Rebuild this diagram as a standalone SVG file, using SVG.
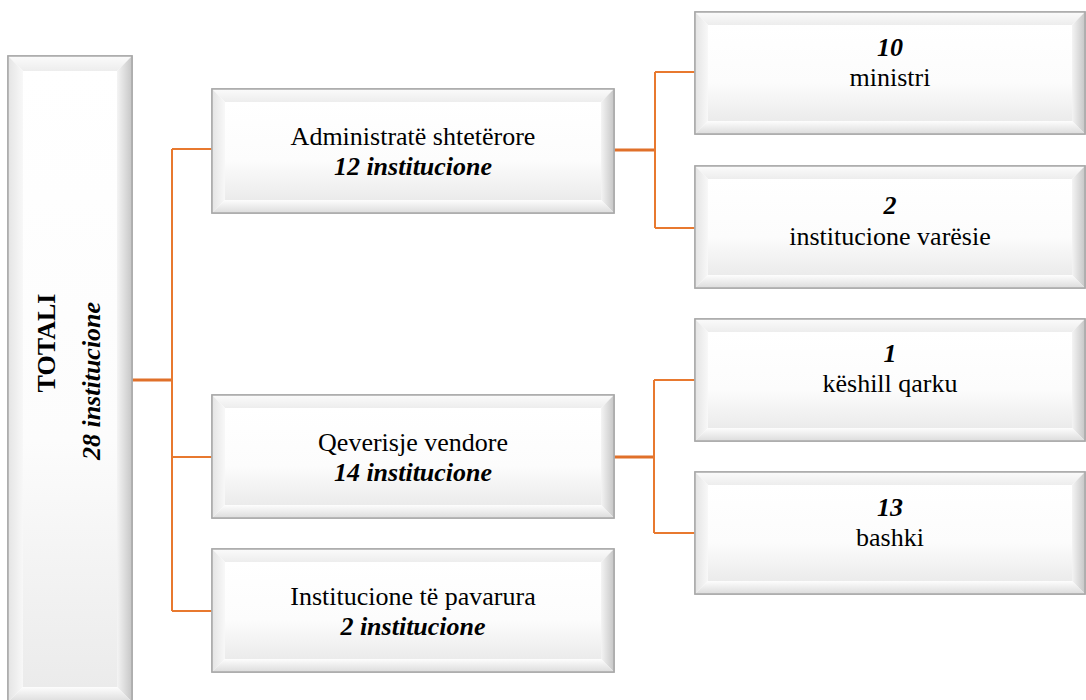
<svg xmlns="http://www.w3.org/2000/svg" width="1086" height="700" viewBox="0 0 1086 700">
<defs>
<linearGradient id="gFace" x1="0" y1="0" x2="0" y2="1">
<stop offset="0" stop-color="#ffffff"/><stop offset="0.6" stop-color="#fcfcfc"/><stop offset="1" stop-color="#ebebeb"/>
</linearGradient>
<linearGradient id="gTop" x1="0" y1="0" x2="0" y2="1">
<stop offset="0" stop-color="#fbfbfb"/><stop offset="1" stop-color="#ededed"/>
</linearGradient>
<linearGradient id="gLeft" x1="0" y1="0" x2="1" y2="0">
<stop offset="0" stop-color="#e4e4e4"/><stop offset="1" stop-color="#f8f8f8"/>
</linearGradient>
<linearGradient id="gRight" x1="0" y1="0" x2="1" y2="0">
<stop offset="0" stop-color="#f4f4f4"/><stop offset="1" stop-color="#c6c6c6"/>
</linearGradient>
<linearGradient id="gBottom" x1="0" y1="0" x2="0" y2="1">
<stop offset="0" stop-color="#fdfdfd"/><stop offset="1" stop-color="#dcdcdc"/>
</linearGradient>
<style>
.outer{fill:#ffffff;stroke:#a9a9a9;stroke-width:1.5}
.face{fill:url(#gFace)}
.bt{fill:url(#gTop)}
.bl{fill:url(#gLeft)}
.br{fill:url(#gRight)}
.bb{fill:url(#gBottom)}
.edge{fill:none;stroke:#a9a9a9;stroke-width:1.5}
.t{font-family:"Liberation Serif","Times New Roman",serif;font-size:26px;fill:#000;text-anchor:middle}
.bi{font-weight:bold;font-style:italic}
.b{font-weight:bold}
.c{fill:none;stroke:#e8792f;stroke-width:2}
.ct{fill:none;stroke:#e0702a;stroke-width:3}
</style>
</defs>

<g id="connectors">
<path class="ct" d="M132 380H172"/>
<path class="c" d="M172 149V611"/>
<path class="c" d="M172 149H212M172 457H212M172 611H212"/>
<path class="ct" d="M614 150H655"/>
<path class="c" d="M655 72V228M655 72H695M655 228H695"/>
<path class="ct" d="M614 457H654"/>
<path class="c" d="M654 380V533M654 380H695M654 533H695"/>
</g>

<g id="totali">
<rect class="outer" x="8" y="56" width="124" height="646"/>
<polygon class="bt" points="8,56 132,56 117,71 23,71"/>
<polygon class="bl" points="8,56 23,71 23,687 8,702"/>
<polygon class="br" points="132,56 132,702 117,687 117,71"/>
<polygon class="bb" points="23,687 117,687 132,702 8,702"/>
<rect class="face" x="23" y="71" width="94" height="616"/>
<rect class="edge" x="8" y="56" width="124" height="646"/>
<text class="t b" font-size="22" transform="translate(55,343) rotate(-90)">TOTALI</text>
<text class="t bi" font-size="28" transform="translate(100,381) rotate(-90)">28 institucione</text>
</g>

<g id="admin">
<rect class="outer" x="212" y="89" width="402" height="124"/>
<polygon class="bt" points="212,89 614,89 601,102 225,102"/>
<polygon class="bl" points="212,89 225,102 225,200 212,213"/>
<polygon class="br" points="614,89 614,213 601,200 601,102"/>
<polygon class="bb" points="225,200 601,200 614,213 212,213"/>
<rect class="face" x="225" y="102" width="376" height="98"/>
<rect class="edge" x="212" y="89" width="402" height="124"/>
<text class="t" x="413" y="145">Administratë shtetërore</text>
<text class="t bi" x="413" y="175">12 institucione</text>
</g>

<g id="qeverisje">
<rect class="outer" x="212" y="395" width="402" height="123"/>
<polygon class="bt" points="212,395 614,395 601,408 225,408"/>
<polygon class="bl" points="212,395 225,408 225,505 212,518"/>
<polygon class="br" points="614,395 614,518 601,505 601,408"/>
<polygon class="bb" points="225,505 601,505 614,518 212,518"/>
<rect class="face" x="225" y="408" width="376" height="97"/>
<rect class="edge" x="212" y="395" width="402" height="123"/>
<text class="t" x="413" y="451">Qeverisje vendore</text>
<text class="t bi" x="413" y="481">14 institucione</text>
</g>

<g id="pavarura">
<rect class="outer" x="212" y="549" width="402" height="123"/>
<polygon class="bt" points="212,549 614,549 601,562 225,562"/>
<polygon class="bl" points="212,549 225,562 225,659 212,672"/>
<polygon class="br" points="614,549 614,672 601,659 601,562"/>
<polygon class="bb" points="225,659 601,659 614,672 212,672"/>
<rect class="face" x="225" y="562" width="376" height="97"/>
<rect class="edge" x="212" y="549" width="402" height="123"/>
<text class="t" x="413" y="605">Institucione të pavarura</text>
<text class="t bi" x="413" y="635">2 institucione</text>
</g>

<g id="ministri">
<rect class="outer" x="695" y="12" width="390" height="122"/>
<polygon class="bt" points="695,12 1085,12 1072,25 708,25"/>
<polygon class="bl" points="695,12 708,25 708,121 695,134"/>
<polygon class="br" points="1085,12 1085,134 1072,121 1072,25"/>
<polygon class="bb" points="708,121 1072,121 1085,134 695,134"/>
<rect class="face" x="708" y="25" width="364" height="96"/>
<rect class="edge" x="695" y="12" width="390" height="122"/>
<text class="t bi" x="890" y="56">10</text>
<text class="t" x="890" y="86">ministri</text>
</g>

<g id="varesie">
<rect class="outer" x="695" y="166" width="390" height="122"/>
<polygon class="bt" points="695,166 1085,166 1072,179 708,179"/>
<polygon class="bl" points="695,166 708,179 708,275 695,288"/>
<polygon class="br" points="1085,166 1085,288 1072,275 1072,179"/>
<polygon class="bb" points="708,275 1072,275 1085,288 695,288"/>
<rect class="face" x="708" y="179" width="364" height="96"/>
<rect class="edge" x="695" y="166" width="390" height="122"/>
<text class="t bi" x="890" y="214">2</text>
<text class="t" x="890" y="245">institucione varësie</text>
</g>

<g id="qarku">
<rect class="outer" x="695" y="319" width="390" height="122"/>
<polygon class="bt" points="695,319 1085,319 1072,332 708,332"/>
<polygon class="bl" points="695,319 708,332 708,428 695,441"/>
<polygon class="br" points="1085,319 1085,441 1072,428 1072,332"/>
<polygon class="bb" points="708,428 1072,428 1085,441 695,441"/>
<rect class="face" x="708" y="332" width="364" height="96"/>
<rect class="edge" x="695" y="319" width="390" height="122"/>
<text class="t bi" x="890" y="362">1</text>
<text class="t" x="890" y="392">këshill qarku</text>
</g>

<g id="bashki">
<rect class="outer" x="695" y="472" width="390" height="122"/>
<polygon class="bt" points="695,472 1085,472 1072,485 708,485"/>
<polygon class="bl" points="695,472 708,485 708,581 695,594"/>
<polygon class="br" points="1085,472 1085,594 1072,581 1072,485"/>
<polygon class="bb" points="708,581 1072,581 1085,594 695,594"/>
<rect class="face" x="708" y="485" width="364" height="96"/>
<rect class="edge" x="695" y="472" width="390" height="122"/>
<text class="t bi" x="890" y="516">13</text>
<text class="t" x="890" y="546">bashki</text>
</g>
</svg>
